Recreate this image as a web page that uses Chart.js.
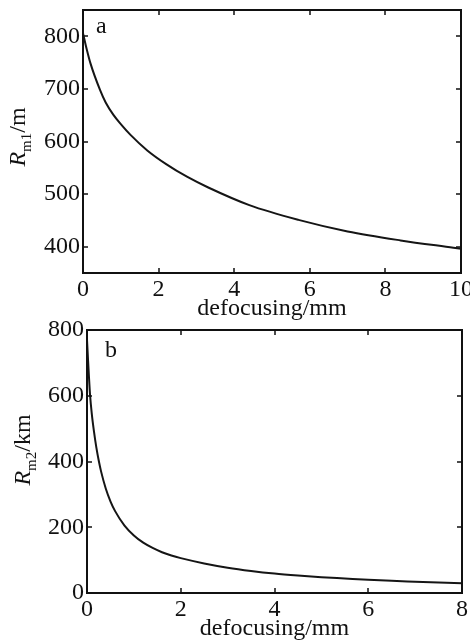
<!DOCTYPE html>
<html>
<head>
<meta charset="utf-8">
<script src="https://cdn.jsdelivr.net/npm/chart.js@4.4.1/dist/chart.umd.min.js"></script>
<style>
  html, body { margin: 0; padding: 0; background: #fff; }
  .panel { position: absolute; left: 0; width: 470px; }
  #boxA { top: 0; height: 320px; }
  #boxB { top: 320px; height: 322px; }
</style>
</head>
<body>
<div class="panel" id="boxA"><canvas id="chartA" width="470" height="320"></canvas></div>
<div class="panel" id="boxB"><canvas id="chartB" width="470" height="322"></canvas></div>
<script>
// panel a: Rm1 (m) vs defocusing (mm)
var defocusA = [0, 0.1, 0.2, 0.45, 0.6, 0.8, 1.0, 1.25, 1.7, 2.2, 2.75, 3.3, 4.4, 5.7, 7.0, 8.4, 9.8, 10];
var radiusA = [806, 775, 748, 698, 674, 651, 633, 613, 583, 557, 533, 513, 479, 451, 429, 412, 398, 396];
var xTicksA = [0, 2, 4, 6, 8, 10];
var yTicksA = [400, 500, 600, 700, 800];

// panel b: Rm2 (km) vs defocusing (mm)
var defocusB = [0, 0.02, 0.04, 0.065, 0.1, 0.15, 0.2, 0.25, 0.3, 0.4, 0.5, 0.6, 0.8, 1, 1.2, 1.4, 1.6, 1.8, 2, 2.5, 3, 3.5, 4, 4.5, 5, 5.5, 6, 6.5, 7, 7.5, 8];
var radiusB = [770, 715, 662, 603, 548, 490, 442, 403, 370, 318, 279, 249, 205, 175, 153, 137, 124, 114, 106, 90, 77, 67, 59, 53, 48, 44, 40, 37, 34.5, 32, 30];
var xTicksB = [0, 2, 4, 6, 8];
var yTicksB = [0, 200, 400, 600, 800];

var SERIF = "'Liberation Serif', 'DejaVu Serif', serif";

function toPoints(xs, ys) {
    var pts = [];
    for (var i = 0; i < xs.length; i++) {
        pts.push({ x: xs[i], y: ys[i] });
    }
    return pts;
}

// box, inward ticks on all four sides, axis titles and panel letter
var framePlugin = {
    id: 'frame',
    afterDraw: function (chart, args, opts) {
        var ctx = chart.ctx;
        var a = chart.chartArea;
        var sx = chart.scales.x, sy = chart.scales.y;
        var len = 5;
        ctx.save();
        ctx.strokeStyle = '#111';
        ctx.lineWidth = 2;
        ctx.strokeRect(a.left, a.top, a.right - a.left, a.bottom - a.top);
        ctx.lineWidth = 1.5;
        ctx.beginPath();
        sx.ticks.forEach(function (t) {
            var px = Math.round(sx.getPixelForValue(t.value));
            ctx.moveTo(px, a.bottom); ctx.lineTo(px, a.bottom - len);
            ctx.moveTo(px, a.top); ctx.lineTo(px, a.top + len);
        });
        sy.ticks.forEach(function (t) {
            var py = Math.round(sy.getPixelForValue(t.value));
            ctx.moveTo(a.left, py); ctx.lineTo(a.left + len, py);
            ctx.moveTo(a.right, py); ctx.lineTo(a.right - len, py);
        });
        ctx.stroke();

        ctx.fillStyle = '#111';
        ctx.textBaseline = 'alphabetic';

        // x title
        ctx.font = '24px ' + SERIF;
        ctx.textAlign = 'center';
        ctx.fillText(opts.xTitle, (a.left + a.right) / 2, opts.xTitleY);

        // panel letter
        ctx.textAlign = 'left';
        ctx.fillText(opts.letter, opts.letterX, opts.letterY);

        // y title, rotated, with subscript
        var mainFont = 'italic 24px ' + SERIF;
        var subFont = '15px ' + SERIF;
        var tailFont = '24px ' + SERIF;
        ctx.font = mainFont; var w1 = ctx.measureText(opts.yMain).width;
        ctx.font = subFont; var w2 = ctx.measureText(opts.ySub).width;
        ctx.font = tailFont; var w3 = ctx.measureText(opts.yTail).width;
        var total = w1 + w2 + w3;
        ctx.translate(opts.yTitleX, opts.yTitleY);
        ctx.rotate(-Math.PI / 2);
        var cx = -total / 2;
        ctx.font = mainFont; ctx.fillText(opts.yMain, cx, 0); cx += w1;
        ctx.font = subFont; ctx.fillText(opts.ySub, cx, 6); cx += w2;
        ctx.font = tailFont; ctx.fillText(opts.yTail, cx, 0);
        ctx.restore();
    }
};

function BuildCurve(elementId, xs, ys, xTicks, yTicks, box, frame) {
    var ctx = document.getElementById(elementId);
    return new Chart(ctx, {
        type: 'line',
        data: {
            datasets: [{
                data: toPoints(xs, ys),
                borderColor: '#151515',
                borderWidth: 2,
                pointRadius: 0,
                fill: false,
                cubicInterpolationMode: 'monotone'
            }]
        },
        options: {
            responsive: false,
            animation: false,
            devicePixelRatio: 1,
            layout: { padding: { top: box.top, right: box.right, left: 0, bottom: 0 } },
            plugins: {
                legend: { display: false },
                tooltip: { enabled: false },
                frame: frame
            },
            scales: {
                x: {
                    type: 'linear',
                    min: xTicks[0],
                    max: xTicks[xTicks.length - 1],
                    afterBuildTicks: function (s) { s.ticks = xTicks.map(function (v) { return { value: v }; }); },
                    afterFit: function (s) { s.height = box.xAxis; s.paddingLeft = 0; s.paddingRight = 0; },
                    grid: { display: false, drawTicks: false },
                    border: { display: false },
                    ticks: { color: '#111', padding: 2, maxRotation: 0, font: { family: SERIF, size: 24 } }
                },
                y: {
                    min: box.yMin,
                    max: box.yMax,
                    afterBuildTicks: function (s) { s.ticks = yTicks.map(function (v) { return { value: v }; }); },
                    afterFit: function (s) { s.width = box.yAxis; s.paddingTop = 0; s.paddingBottom = 0; },
                    grid: { display: false, drawTicks: false },
                    border: { display: false },
                    ticks: { color: '#111', padding: 3, font: { family: SERIF, size: 24 } }
                }
            }
        },
        plugins: [framePlugin]
    });
}

BuildCurve('chartA', defocusA, radiusA, xTicksA, yTicksA,
    { top: 10, right: 9, xAxis: 47, yAxis: 83, yMin: 350, yMax: 850 },
    { xTitle: 'defocusing/mm', xTitleY: 315, letter: 'a', letterX: 96, letterY: 33,
      yMain: 'R', ySub: 'm1', yTail: '/m', yTitleX: 25, yTitleY: 137 });

BuildCurve('chartB', defocusB, radiusB, xTicksB, yTicksB,
    { top: 10, right: 8, xAxis: 49, yAxis: 87, yMin: 0, yMax: 800 },
    { xTitle: 'defocusing/mm', xTitleY: 315, letter: 'b', letterX: 105, letterY: 37,
      yMain: 'R', ySub: 'm2', yTail: '/km', yTitleX: 30, yTitleY: 130 });
</script>
</body>
</html>
